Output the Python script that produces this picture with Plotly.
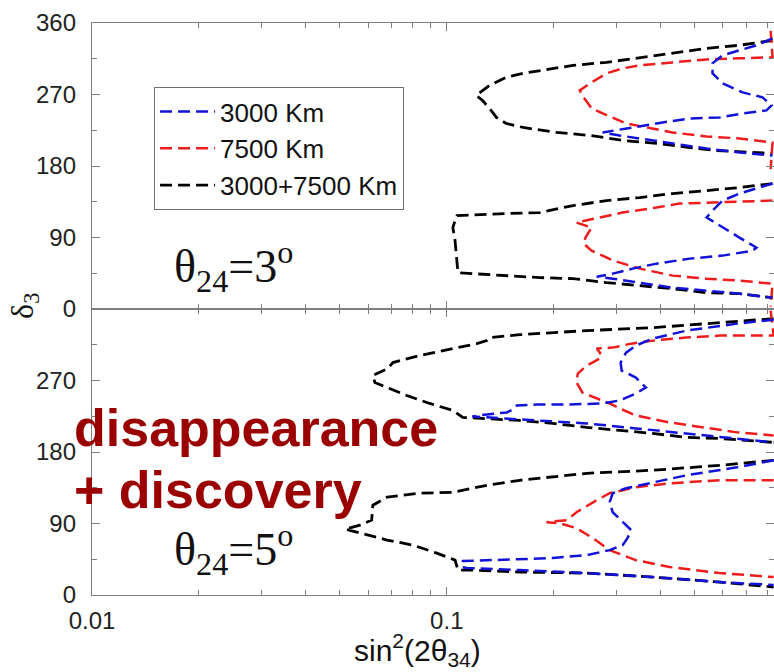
import numpy as np
import plotly.graph_objects as go
from plotly.subplots import make_subplots

# ---------------- data (x = sin^2(2 theta34), d = delta3 in degrees) ----------------
# Top panel: theta24 = 3 deg
top_black_up_x = [0.828, 0.668, 0.540, 0.433, 0.350, 0.282, 0.227, 0.183, 0.164, 0.147, 0.141, 0.132, 0.121,
                  0.126, 0.132, 0.138, 0.147, 0.164, 0.204, 0.253, 0.313, 0.390, 0.484, 0.575, 0.828]
top_black_up_d = [338, 332, 328, 322, 315.5, 310.5, 306.7, 300.4, 296.6, 291.6, 287.8, 281.5, 268.9,
                  262.6, 252.5, 241.1, 233.6, 228.5, 222.2, 218.5, 212.2, 208.4, 203.3, 199.5, 195.8]
top_black_lo_x = [0.828, 0.668, 0.540, 0.433, 0.350, 0.282, 0.227, 0.183, 0.147, 0.118, 0.1068, 0.1055, 0.104,
                  0.1055, 0.1068, 0.1075, 0.118, 0.147, 0.183, 0.227, 0.282, 0.350, 0.433, 0.540, 0.668, 0.828]
top_black_lo_d = [157.9, 152.9, 149.1, 145.3, 140.3, 136.5, 130.2, 121.4, 120.1, 118.8, 117.6, 111.3, 102.5,
                  86.1, 64.7, 45.8, 44.5, 42.0, 39.5, 38.2, 33.2, 29.4, 25.6, 20.5, 19.3, 14.2]

top_red_up_x = [0.818, 0.828, 0.668, 0.540, 0.433, 0.350, 0.313, 0.282, 0.256, 0.237, 0.243, 0.256, 0.275,
                0.295, 0.320, 0.366, 0.433, 0.540, 0.668, 0.828, 0.818]
top_red_up_d = [350, 316.8, 315.5, 314.2, 310.4, 306.7, 302.9, 296.6, 285.3, 275.2, 266.4, 252.5, 246.2,
                239.9, 233.6, 228.5, 222.2, 217.2, 214.7, 209.6, 176]
top_red_lo_x = [0.828, 0.668, 0.540, 0.453, 0.390, 0.313, 0.270, 0.232, 0.256, 0.246, 0.243, 0.256, 0.295,
                0.350, 0.433, 0.540, 0.668, 0.828, 0.818]
top_red_lo_d = [136.5, 135.3, 134.0, 132.7, 127.7, 121.4, 115.1, 108.8, 102.5, 89.9, 82.3, 73.5, 60.9,
                50.8, 42.0, 38.2, 35.7, 31.9, 3]

top_blue_up_x = [0.828, 0.746, 0.668, 0.599, 0.561, 0.561, 0.599, 0.682, 0.776, 0.823, 0.796, 0.682, 0.5875,
                 0.484, 0.390, 0.334, 0.282, 0.275, 0.307, 0.350, 0.433, 0.540, 0.668, 0.828]
top_blue_up_d = [340.7, 331.9, 325.6, 319.3, 309.2, 296.6, 284.0, 272.7, 266.4, 256.3, 250.0, 246.2, 241.1,
                 239.9, 233.6, 228.5, 222.2, 222.2, 218.4, 214.7, 208.4, 202.0, 197.0, 193.2]
top_blue_lo_x = [0.828, 0.668, 0.599, 0.561, 0.540, 0.599, 0.668, 0.746, 0.728, 0.599, 0.484, 0.390, 0.334,
                 0.2935, 0.2646, 0.2935, 0.350, 0.433, 0.540, 0.668, 0.828]
top_blue_lo_d = [157.9, 145.3, 136.5, 123.9, 115.1, 102.5, 89.9, 77.3, 73.5, 67.2, 63.4, 57.1, 50.8,
                 44.5, 40.7, 38.2, 33.2, 26.8, 23.1, 19.3, 14.2]

# Bottom panel: theta24 = 5 deg
bot_black_up_x = [0.834, 0.5875, 0.380, 0.248, 0.1607, 0.132, 0.1296, 0.1215, 0.104, 0.0839, 0.0705, 0.0682,
                  0.0619, 0.0627, 0.069, 0.0771, 0.0895, 0.104, 0.1109, 0.1296, 0.1607, 0.1989, 0.248, 0.307,
                  0.380, 0.474, 0.5875, 0.834]
bot_black_up_d = [347.8, 342.8, 336.5, 332.8, 327.7, 324.0, 320.2, 316.4, 310.2, 301.4, 292.6, 285.0,
                  276.3, 267.5, 259.9, 251.1, 241.1, 232.3, 223.5, 222.3, 219.7, 216.0, 211.0, 207.2,
                  203.4, 198.4, 197.1, 192.1]
bot_black_lo_x = [0.834, 0.5875, 0.380, 0.248, 0.1607, 0.1296, 0.104, 0.0839, 0.0679, 0.0619, 0.0614, 0.0569,
                  0.0517, 0.0569, 0.0679, 0.0803, 0.0937, 0.1055, 0.1075, 0.1161, 0.1607, 0.248, 0.380,
                  0.5875, 0.834]
bot_black_lo_d = [169.5, 163.2, 157.0, 153.2, 144.4, 138.1, 129.3, 128.1, 123.1, 113.0, 94.2, 87.9,
                  82.9, 77.9, 69.1, 62.8, 52.7, 43.9, 31.4, 31.4, 28.9, 27.6, 22.6, 16.3, 10.0]

bot_red_up_x = [0.818, 0.834, 0.5875, 0.474, 0.380, 0.331, 0.2935, 0.2646, 0.270, 0.273, 0.248, 0.234, 0.232,
                0.241, 0.2646, 0.2877, 0.307, 0.341, 0.4246, 0.534, 0.658, 0.834]
bot_red_up_d = [358, 326.5, 326.5, 324.0, 320.2, 316.4, 311.4, 310.2, 305.1, 298.9, 288.8, 278.8, 267.5,
                254.9, 247.4, 241.1, 234.8, 226.0, 217.2, 210.9, 204.7, 200.9]
bot_red_lo_x = [0.834, 0.5875, 0.4246, 0.341, 0.2877, 0.2646, 0.232, 0.218, 0.191, 0.208, 0.232, 0.258,
                0.2877, 0.341, 0.4246, 0.5875, 0.834]
bot_red_lo_d = [144.4, 144.4, 140.6, 135.6, 128.1, 119.3, 104.2, 94.2, 91.7, 90.4, 84.1, 71.6,
                56.5, 43.9, 35.2, 27.6, 22.6]

bot_blue_up_x = [0.834, 0.658, 0.474, 0.380, 0.341, 0.320, 0.309, 0.311, 0.341, 0.364, 0.341, 0.307, 0.275,
                 0.222, 0.179, 0.1575, 0.1555, 0.1476, 0.1296, 0.118, 0.1436, 0.179, 0.248, 0.341, 0.474,
                 0.658, 0.834]
bot_blue_up_d = [346.6, 341.6, 332.8, 322.7, 313.9, 305.1, 292.6, 282.5, 273.7, 261.2, 253.7, 244.9, 241.1,
                 239.8, 239.8, 238.6, 234.8, 229.8, 227.3, 224.8, 222.3, 219.7, 216.0, 209.7, 203.4,
                 197.1, 192.1]
bot_blue_lo_x = [0.834, 0.658, 0.474, 0.380, 0.320, 0.2935, 0.2877, 0.2935, 0.313, 0.331, 0.323, 0.313,
                 0.2877, 0.248, 0.1989, 0.1607, 0.1296, 0.111, 0.1102, 0.114, 0.1607, 0.248, 0.380,
                 0.5875, 0.834]
bot_blue_lo_d = [169.5, 160.7, 150.7, 141.9, 134.4, 128.1, 116.8, 104.2, 91.7, 81.6, 71.6, 62.8,
                 56.5, 50.2, 46.5, 45.2, 43.9, 42.7, 35.2, 33.9, 31.4, 27.6, 22.6, 16.3, 12.6]

series_names = ["3000 Km", "7500 Km", "3000+7500 Km"]
series_colors = ["#1212d8", "#ee1c1c", "#000000"]

major_x = [0.01, 0.1, 1]
minor_x = [0.02, 0.03, 0.04, 0.05, 0.06, 0.07, 0.08, 0.09, 0.2, 0.3, 0.4, 0.5, 0.6, 0.7, 0.8, 0.9]
x_ticktext = ["0.01", "0.1", "1"]
y_major = [0, 90, 180, 270, 360]
y_minor = [45, 135, 225, 315]

# --------------------------------------------------------------------------------------
fig = make_subplots(rows=2, cols=1, shared_xaxes=True, vertical_spacing=0)

def join(a, b):
    return list(a) + [None] + list(b)

panels = {
    1: {"3000 Km": (join(top_blue_up_x, top_blue_lo_x), join(top_blue_up_d, top_blue_lo_d)),
        "7500 Km": (join(top_red_up_x, top_red_lo_x), join(top_red_up_d, top_red_lo_d)),
        "3000+7500 Km": (join(top_black_up_x, top_black_lo_x), join(top_black_up_d, top_black_lo_d))},
    2: {"3000 Km": (join(bot_blue_up_x, bot_blue_lo_x), join(bot_blue_up_d, bot_blue_lo_d)),
        "7500 Km": (join(bot_red_up_x, bot_red_lo_x), join(bot_red_up_d, bot_red_lo_d)),
        "3000+7500 Km": (join(bot_black_up_x, bot_black_lo_x), join(bot_black_up_d, bot_black_lo_d))},
}

draw_order = [2, 1, 0]  # black, red, blue
for row in (1, 2):
    for i in draw_order:
        name = series_names[i]
        xs, ds = panels[row][name]
        fig.add_trace(go.Scatter(
            x=xs, y=ds, mode="lines", name=name, legendgroup=name, legendrank=i + 1,
            showlegend=(row == 1), cliponaxis=True,
            line=dict(color=series_colors[i], width=2.8 if i == 2 else 2.5, dash="12px,6px"),
            connectgaps=False), row=row, col=1)

axis_line = "#7f7f7f"
tick_font = dict(family="Liberation Sans, Arial, sans-serif", size=24, color="#222222")

for row in (1, 2):
    fig.update_xaxes(
        type="log", range=[-2, np.log10(0.836)],
        tickvals=major_x, ticktext=x_ticktext, ticks="inside", ticklen=8, tickwidth=1.3,
        tickcolor=axis_line, showline=True, linecolor=axis_line, linewidth=1.1, mirror="ticks",
        showgrid=False, zeroline=False, tickfont=tick_font, ticklabelstandoff=4,
        showticklabels=(row == 2),
        minor=dict(tickvals=minor_x, ticks="inside", ticklen=5, tickcolor=axis_line, tickwidth=1.2,
                   showgrid=False),
        row=row, col=1)
    fig.update_yaxes(
        range=[0, 360], tickvals=(y_major if row == 1 else y_major[:-1]),
        ticks="inside", ticklen=8, tickwidth=1.3, tickcolor=axis_line,
        showline=True, linecolor=axis_line, linewidth=1.4, mirror="ticks",
        showgrid=False, zeroline=False, tickfont=tick_font, ticklabelstandoff=10,
        minor=dict(tickvals=y_minor + [360] if row == 2 else y_minor, ticks="inside", ticklen=5,
                   tickcolor=axis_line, tickwidth=1.2, showgrid=False),
        row=row, col=1)

theta_font = dict(family="Liberation Serif, Times New Roman, serif", size=46, color="#111111")
label_red = "#9a0000"
annots = [
    dict(text="θ<sub>24</sub>=3<sup>o</sup>", x=0.117, y=0.575, xanchor="left", yanchor="middle",
         font=theta_font),
    dict(text="θ<sub>24</sub>=5<sup>o</sup>", x=0.117, y=0.080, xanchor="left", yanchor="middle",
         font=theta_font),
    dict(text="<b>disappearance</b>", x=-0.03, y=0.292, xanchor="left", yanchor="middle",
         font=dict(family="Liberation Sans, Arial, sans-serif", size=52, color=label_red)),
    dict(text="<b>+ discovery</b>", x=-0.03, y=0.184, xanchor="left", yanchor="middle",
         font=dict(family="Liberation Sans, Arial, sans-serif", size=52, color=label_red)),
    dict(text="δ<sub>3</sub>", x=-0.100, y=0.505, xanchor="center", yanchor="middle", textangle=-90,
         font=dict(family="Liberation Serif, Times New Roman, serif", size=32, color="#111111")),
    dict(text="sin<sup>2</sup>(2θ<sub>34</sub>)", x=0.478, y=-0.096, xanchor="center", yanchor="middle",
         font=dict(family="Liberation Sans, Arial, sans-serif", size=30, color="#111111")),
]
for a in annots:
    a.update(xref="paper", yref="paper", showarrow=False)

fig.update_layout(
    width=774, height=672,
    margin=dict(l=92, r=0, t=23, b=77),
    paper_bgcolor="white", plot_bgcolor="white",
    annotations=annots,
    showlegend=True,
    legend=dict(x=0.091, y=0.888, xanchor="left", yanchor="top",
                bordercolor="#6f6f6f", borderwidth=1, bgcolor="white",
                font=dict(family="Liberation Sans, Arial, sans-serif", size=26, color="#111111"),
                tracegroupgap=0, itemwidth=55),
)

fig.write_html("out.html")
